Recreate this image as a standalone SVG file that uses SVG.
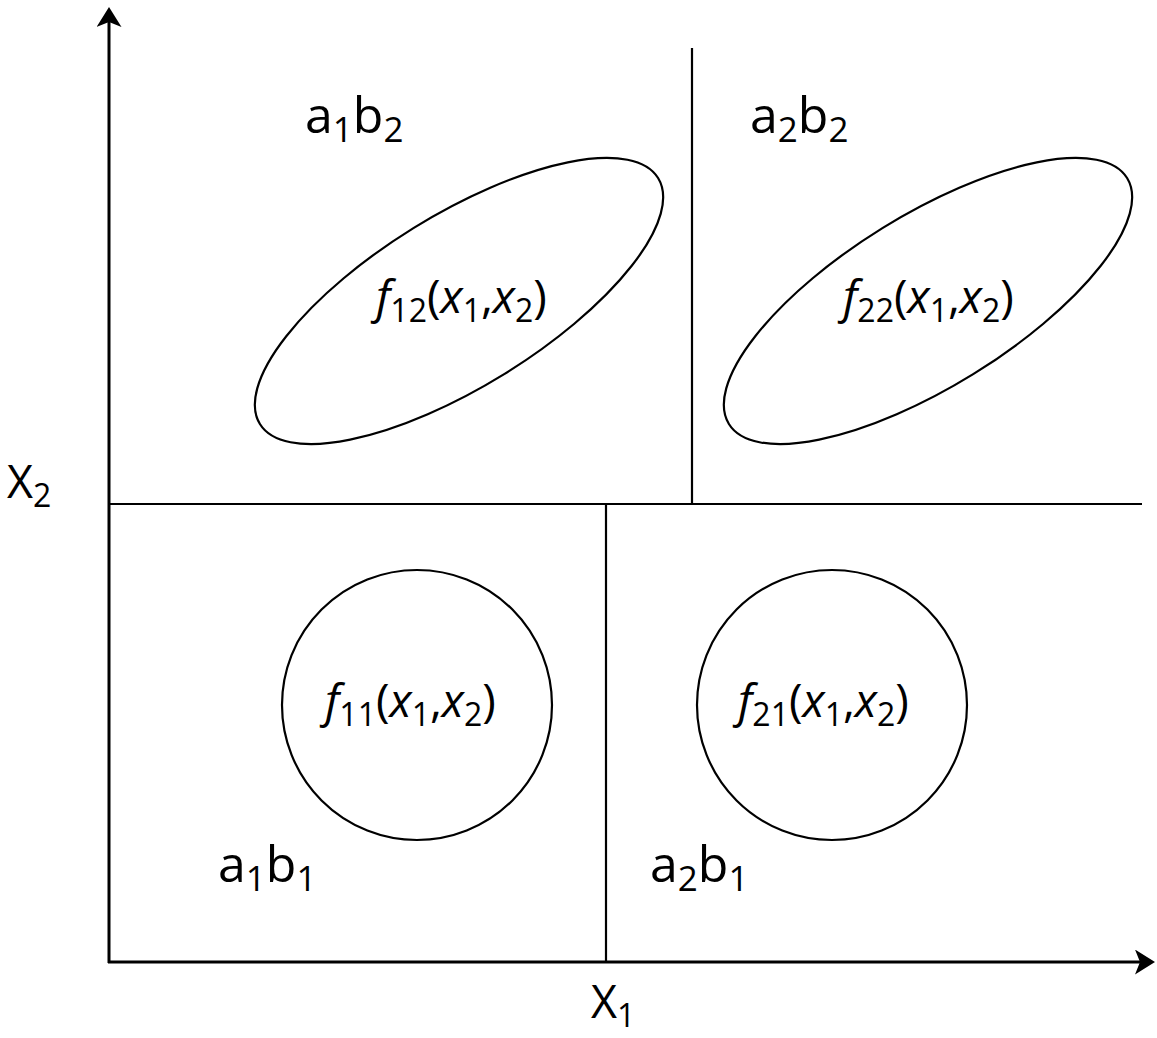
<svg xmlns="http://www.w3.org/2000/svg" width="1157" height="1038" viewBox="0 0 1157 1038">
<style>
.ln{stroke:#000;stroke-width:3;fill:none}
.sh{stroke:#000;stroke-width:2.2;fill:none}
text{font-family:"Open Sans","Noto Sans","Liberation Sans",sans-serif;fill:#000}
.fx{font-size:46px}
.lb{font-size:50px}
.ax{font-size:45px}
.it{font-style:italic}
.fx .sb{font-size:32px;font-style:normal}
.lb .sb{font-size:35px}
.ax .sb{font-size:32px}
</style>
<defs>
<marker id="ah" viewBox="0 0 20 25" refX="5" refY="12.5" markerWidth="20" markerHeight="25" markerUnits="userSpaceOnUse" orient="auto">
<path d="M0,0 L20,12.5 L0,25 L5,12.5 Z" fill="#000"/>
</marker>
</defs>
<rect width="1157" height="1038" fill="#fff"/>
<g id="connectors">
<line class="ln" x1="109" y1="963" x2="109" y2="22" marker-end="url(#ah)"/>
<line class="ln" x1="108" y1="962" x2="1140" y2="962" marker-end="url(#ah)"/>
<line class="sh" x1="109" y1="504" x2="1142" y2="504"/>
<line class="sh" x1="692" y1="48" x2="692" y2="504"/>
<line class="sh" x1="606" y1="504" x2="606" y2="962"/>
</g>
<g id="f12">
<ellipse class="sh" cx="459" cy="301" rx="234" ry="86" transform="rotate(-31.7 459 301)"/>
<text class="fx" x="376" y="313"><tspan class="it">f</tspan><tspan class="sb" dy="9">12</tspan><tspan dy="-9">(</tspan><tspan class="it">x</tspan><tspan class="sb" dy="9">1</tspan><tspan dy="-9">,</tspan><tspan class="it">x</tspan><tspan class="sb" dy="9">2</tspan><tspan dy="-9">)</tspan></text>
</g>
<g id="f22">
<ellipse class="sh" cx="928" cy="301" rx="234" ry="86" transform="rotate(-31.7 928 301)"/>
<text class="fx" x="843" y="313"><tspan class="it">f</tspan><tspan class="sb" dy="9">22</tspan><tspan dy="-9">(</tspan><tspan class="it">x</tspan><tspan class="sb" dy="9">1</tspan><tspan dy="-9">,</tspan><tspan class="it">x</tspan><tspan class="sb" dy="9">2</tspan><tspan dy="-9">)</tspan></text>
</g>
<g id="f11">
<circle class="sh" cx="417" cy="705" r="135"/>
<text class="fx" x="325" y="717"><tspan class="it">f</tspan><tspan class="sb" dy="9">11</tspan><tspan dy="-9">(</tspan><tspan class="it">x</tspan><tspan class="sb" dy="9">1</tspan><tspan dy="-9">,</tspan><tspan class="it">x</tspan><tspan class="sb" dy="9">2</tspan><tspan dy="-9">)</tspan></text>
</g>
<g id="f21">
<circle class="sh" cx="832" cy="705" r="135"/>
<text class="fx" x="738" y="717"><tspan class="it">f</tspan><tspan class="sb" dy="9">21</tspan><tspan dy="-9">(</tspan><tspan class="it">x</tspan><tspan class="sb" dy="9">1</tspan><tspan dy="-9">,</tspan><tspan class="it">x</tspan><tspan class="sb" dy="9">2</tspan><tspan dy="-9">)</tspan></text>
</g>
<g id="labels">
<text class="lb" x="305" y="133">a<tspan class="sb" dy="9">1</tspan><tspan dy="-9">b</tspan><tspan class="sb" dy="9">2</tspan></text>
<text class="lb" x="750" y="133">a<tspan class="sb" dy="9">2</tspan><tspan dy="-9">b</tspan><tspan class="sb" dy="9">2</tspan></text>
<text class="lb" x="218" y="882">a<tspan class="sb" dy="9">1</tspan><tspan dy="-9">b</tspan><tspan class="sb" dy="9">1</tspan></text>
<text class="lb" x="650" y="882">a<tspan class="sb" dy="9">2</tspan><tspan dy="-9">b</tspan><tspan class="sb" dy="9">1</tspan></text>
<text class="ax" x="7" y="498">X<tspan class="sb" dy="9">2</tspan></text>
<text class="ax" x="591" y="1018">X<tspan class="sb" dy="9">1</tspan></text>
</g>
</svg>
